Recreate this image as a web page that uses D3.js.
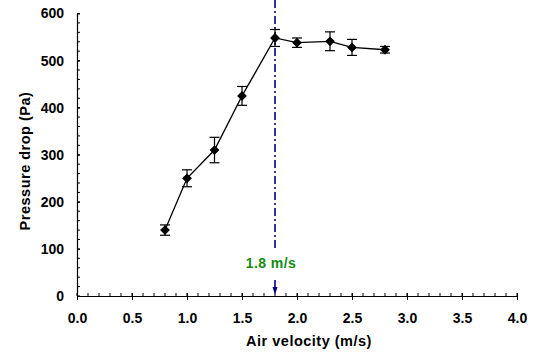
<!DOCTYPE html>
<html>
<head>
<meta charset="utf-8">
<script src="https://cdn.jsdelivr.net/npm/d3@7"></script>
<style>
  body { margin: 0; background: #fff; }
  svg text { font-family: "Liberation Sans", Arial, sans-serif; font-weight: bold; }
</style>
</head>
<body>
<div class="chart"></div>
<script>
// measured data
const velocity = [0.8, 1.0, 1.25, 1.5, 1.8, 2.0, 2.3, 2.5, 2.8];
const pressure = [140, 250, 310, 425, 548, 538, 541, 528, 523];
const errors = [11, 18, 27, 20, 18, 10, 20, 17, 7];
const xTicks = [0, 0.5, 1.0, 1.5, 2.0, 2.5, 3.0, 3.5, 4.0];
const yTicks = [0, 100, 200, 300, 400, 500, 600];
const markerVelocity = 1.8;
const markerLabel = '1.8 m/s';

const width = 533;
const height = 353;

const svg = d3.select('.chart')
  .append('svg')
  .attr('width', width)
  .attr('height', height);

const xScale = d3.scaleLinear()
  .domain([0, 4])
  .range([77, 517]);

const yScale = d3.scaleLinear()
  .domain([0, 600])
  .range([296, 13.5]);

const data = velocity.map((v, i) => ({ x: v, y: pressure[i], e: errors[i] }));

// minor ticks (inside)
const xMinor = d3.range(0, 4.0001, 0.1);
const yMinor = d3.range(0, 600.001, 20);

const axisG = svg.append('g');

axisG.selectAll('.xminor')
  .data(xMinor)
  .join('line')
  .attr('x1', d => xScale(d)).attr('x2', d => xScale(d))
  .attr('y1', yScale(0)).attr('y2', yScale(0) - 3)
  .attr('stroke', '#000');

axisG.selectAll('.yminor')
  .data(yMinor)
  .join('line')
  .attr('y1', d => yScale(d)).attr('y2', d => yScale(d))
  .attr('x1', xScale(0)).attr('x2', xScale(0) + 3)
  .attr('stroke', '#000');

// X Axis
const xAxis = d3.axisBottom(xScale)
  .tickValues(xTicks)
  .tickFormat(d3.format('.1f'))
  .tickSizeInner(4)
  .tickSizeOuter(0)
  .tickPadding(13);

const gx = svg.append('g')
  .attr('transform', `translate(0, ${yScale(0)})`)
  .call(xAxis);
gx.selectAll('.tick line').attr('y1', -3);
gx.selectAll('text').style('font-size', '14px').attr('fill', '#000');

// Y Axis
const yAxis = d3.axisLeft(yScale)
  .tickValues(yTicks)
  .tickSizeInner(4)
  .tickSizeOuter(0)
  .tickPadding(9);

const gy = svg.append('g')
  .attr('transform', `translate(${xScale(0)}, 0)`)
  .call(yAxis);
gy.selectAll('.tick line').attr('x2', 3);
gy.selectAll('text').style('font-size', '14px').attr('fill', '#000');

svg.selectAll('.domain').attr('stroke', '#000').attr('stroke-width', 1.2);

// axis titles
svg.append('text')
  .attr('x', 309)
  .attr('y', 346)
  .attr('text-anchor', 'middle')
  .style('font-size', '14.5px')
  .style('letter-spacing', '0.5px')
  .text('Air velocity (m/s)');

svg.append('text')
  .attr('transform', `translate(30, 161) rotate(-90)`)
  .attr('text-anchor', 'middle')
  .style('font-size', '14.5px')
  .style('letter-spacing', '0.5px')
  .text('Pressure drop (Pa)');

// reference line at 1.8 m/s
const mx = xScale(markerVelocity);
svg.append('line')
  .attr('x1', mx).attr('x2', mx)
  .attr('y1', 0).attr('y2', 249)
  .attr('stroke', '#000080')
  .attr('stroke-width', 1.6)
  .attr('stroke-dasharray', '8,3,2,3');

svg.append('line')
  .attr('x1', mx).attr('x2', mx)
  .attr('y1', 280).attr('y2', 288)
  .attr('stroke', '#000080')
  .attr('stroke-width', 1.6);

svg.append('path')
  .attr('d', `M${mx - 2.5},${287} L${mx + 2.5},${287} L${mx},${yScale(0) - 1} Z`)
  .attr('fill', '#000080');

svg.append('text')
  .attr('x', mx - 4)
  .attr('y', 268)
  .attr('text-anchor', 'middle')
  .attr('fill', '#128c12')
  .style('font-size', '14px')
  .style('letter-spacing', '0.4px')
  .text(markerLabel);

// error bars
const eb = svg.append('g').attr('stroke', '#000').attr('stroke-width', 1.2);
eb.selectAll('.v')
  .data(data)
  .join('line')
  .attr('x1', d => xScale(d.x)).attr('x2', d => xScale(d.x))
  .attr('y1', d => yScale(d.y - d.e)).attr('y2', d => yScale(d.y + d.e));
eb.selectAll('.top')
  .data(data)
  .join('line')
  .attr('x1', d => xScale(d.x) - 5).attr('x2', d => xScale(d.x) + 5)
  .attr('y1', d => yScale(d.y + d.e)).attr('y2', d => yScale(d.y + d.e));
eb.selectAll('.bot')
  .data(data)
  .join('line')
  .attr('x1', d => xScale(d.x) - 5).attr('x2', d => xScale(d.x) + 5)
  .attr('y1', d => yScale(d.y - d.e)).attr('y2', d => yScale(d.y - d.e));

// data line
const lineGenerator = d3.line()
  .x(d => xScale(d.x))
  .y(d => yScale(d.y));

svg.append('path')
  .attr('fill', 'none')
  .attr('stroke', '#000')
  .attr('stroke-width', 1.3)
  .attr('d', lineGenerator(data));

// diamond markers
svg.selectAll('.marker')
  .data(data)
  .join('path')
  .attr('d', d3.symbol().type(d3.symbolSquare).size(48))
  .attr('transform', d => `translate(${xScale(d.x)}, ${yScale(d.y)}) rotate(45)`)
  .attr('fill', '#000');
</script>
</body>
</html>
